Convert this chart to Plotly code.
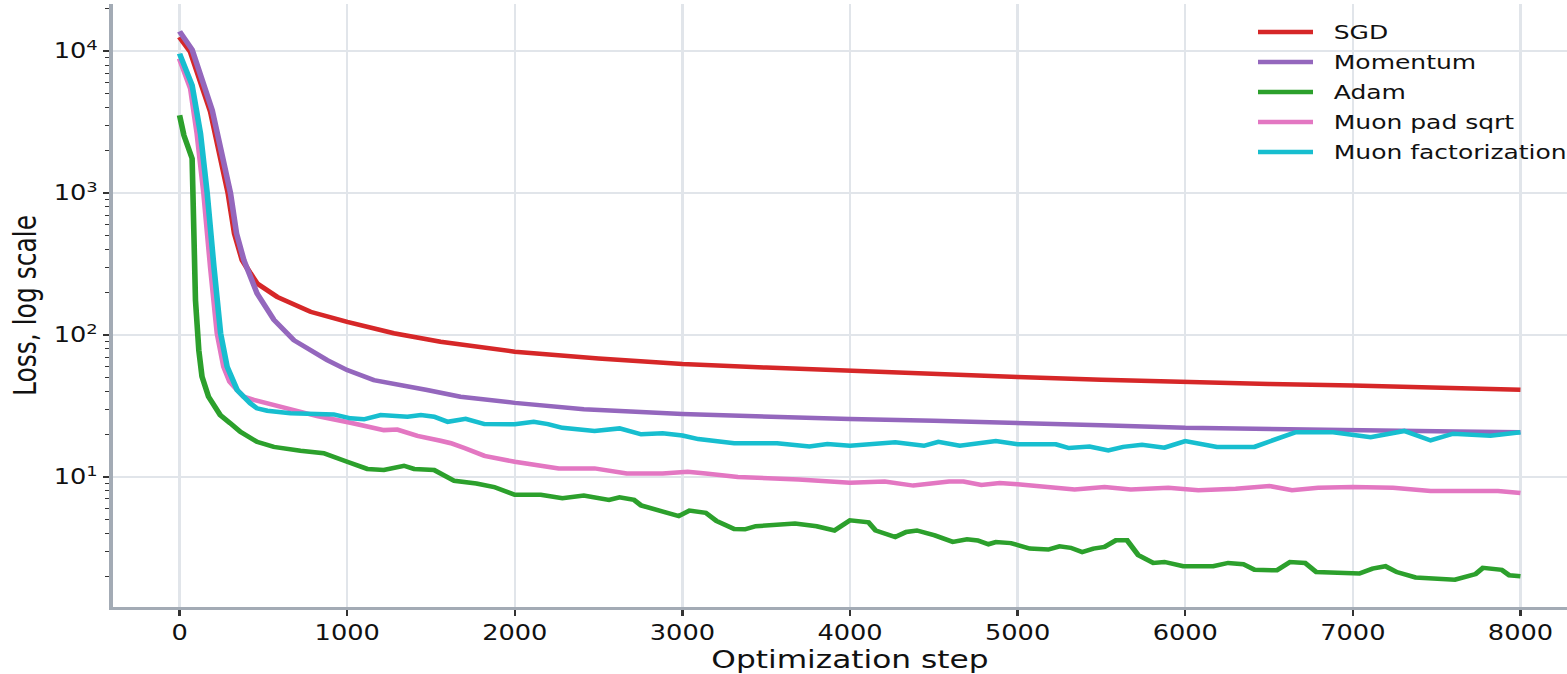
import plotly.graph_objects as go

# Loss curves per optimizer (step, loss)
sgd_steps = [0, 65, 185, 235, 290, 328, 374, 423, 463, 582, 781, 1000, 1278, 1557, 2000, 2500,
             3000, 3500, 4000, 4500, 5000, 5500, 6000, 6500, 7000, 7500, 8000]
sgd_loss = [12600, 9900, 3750, 2000, 1000, 520, 337, 272, 231, 186, 146, 124, 103, 89.7, 76.4, 68.5,
            62.5, 59.0, 55.8, 52.8, 50.6, 48.5, 46.7, 45.3, 44.2, 42.6, 41.2]

momentum_steps = [0, 75, 195, 249, 304, 340, 384, 463, 563, 682, 881, 1000, 1159, 1477, 1676, 2000,
                  2412, 3000, 3477, 4000, 4500, 4904, 5500, 6000, 6500, 7000, 7500, 8000]
momentum_loss = [13800, 10280, 3845, 2000, 1000, 520, 337, 196, 128, 92, 66.7, 56.7, 48.2, 41.0, 36.8, 33.3,
                 30.0, 27.8, 26.6, 25.6, 24.9, 24.3, 23.2, 22.2, 21.7, 21.3, 21.0, 20.7]

adam_steps = [0, 26, 75, 85, 95, 115, 134, 173, 243, 303, 363, 462, 562, 721, 860, 1000, 1120, 1219,
              1339, 1399, 1519, 1639, 1771, 1877, 2000, 2155, 2284, 2412, 2562, 2625, 2711, 2754,
              2882, 2978, 3042, 3139, 3203, 3309, 3373, 3438, 3672, 3801, 3907, 4000, 4110, 4153,
              4270, 4335, 4399, 4506, 4613, 4698, 4762, 4826, 4870, 4960, 5072, 5183, 5250, 5317,
              5385, 5452, 5519, 5586, 5653, 5720, 5809, 5876, 5988, 6167, 6256, 6346, 6413, 6547,
              6625, 6715, 6782, 7039, 7117, 7195, 7262, 7374, 7609, 7732, 7776, 7888, 7933, 8000]
adam_loss = [3540, 2560, 1755, 520, 176, 78, 51, 36.8, 27.3, 23.9, 20.8, 17.7, 16.3, 15.3, 14.7, 12.8,
             11.4, 11.2, 12.0, 11.4, 11.2, 9.4, 9.0, 8.5, 7.5, 7.5, 7.1, 7.4, 6.9, 7.2, 6.9, 6.3,
             5.7, 5.3, 5.8, 5.6, 4.9, 4.3, 4.28, 4.5, 4.7, 4.5, 4.2, 4.95, 4.8, 4.2,
             3.78, 4.1, 4.2, 3.88, 3.49, 3.64, 3.57, 3.36, 3.48, 3.42, 3.13, 3.08, 3.25, 3.17,
             2.96, 3.13, 3.22, 3.58, 3.58, 2.81, 2.48, 2.52, 2.35, 2.35, 2.48, 2.43, 2.22, 2.20,
             2.52, 2.48, 2.14, 2.09, 2.26, 2.35, 2.14, 1.96, 1.89, 2.07, 2.29, 2.22, 2.03, 2.0]

pad_sqrt_steps = [0, 66, 105, 145, 185, 225, 264, 300, 344, 382, 443, 582, 722, 821, 1020, 1219, 1299,
                  1419, 1557, 1619, 1707, 1819, 2000, 2219, 2262, 2476, 2668, 2882, 3032, 3139,
                  3331, 3694, 4000, 4207, 4378, 4591, 4677, 4784, 4893, 5000, 5340, 5519, 5675,
                  5899, 6078, 6301, 6502, 6637, 6793, 7000, 7240, 7464, 7687, 7866, 8000]
pad_sqrt_loss = [8870, 5460, 2630, 1000, 303, 103, 59.8, 47, 41, 36.8, 35.0, 31.6, 29.0, 26.9, 24.1, 21.4,
                 21.6, 19.5, 18.0, 17.3, 15.9, 14.1, 12.8, 11.8, 11.5, 11.5, 10.6, 10.6, 10.9, 10.6,
                 10.0, 9.6, 9.1, 9.3, 8.7, 9.3, 9.3, 8.8, 9.07, 8.88, 8.15, 8.5, 8.18,
                 8.41, 8.06, 8.27, 8.64, 8.06, 8.41, 8.5, 8.4, 7.96, 7.96, 7.96, 7.71]

factor_steps = [0, 75, 125, 165, 205, 245, 284, 344, 423, 462, 523, 662, 920, 1020, 1100, 1200,
                1360, 1440, 1519, 1600, 1707, 1819, 2000, 2113, 2198, 2284, 2476, 2625, 2754,
                2882, 3000, 3095, 3309, 3565, 3758, 3865, 4000, 4270, 4441, 4527, 4655, 4848,
                4870, 5000, 5228, 5306, 5429, 5541, 5630, 5742, 5876, 6000, 6189, 6413, 6547,
                6659, 6883, 7000, 7106, 7307, 7464, 7598, 7821, 8000]
factor_loss = [9630, 5770, 2630, 1000, 303, 103, 59.8, 41, 33, 30.5, 29.3, 28.1, 27.6, 25.9, 25.5, 27.3,
               26.6, 27.3, 26.6, 24.5, 25.7, 23.6, 23.5, 24.5, 23.6, 22.2, 21.1, 22.0, 20.0,
               20.3, 19.6, 18.5, 17.3, 17.3, 16.4, 17.1, 16.6, 17.6, 16.6, 17.7, 16.6, 17.7,
               17.9, 17.0, 17.0, 16.0, 16.4, 15.4, 16.3, 16.9, 16.1, 17.9, 16.3, 16.3, 18.6,
               20.7, 20.7, 20.0, 19.1, 21.1, 18.1, 20.2, 19.5, 20.7]

series_names = ["SGD", "Momentum", "Adam", "Muon pad sqrt", "Muon factorization"]
series_colors = ["#d62728", "#9467bd", "#2ca02c", "#e377c2", "#17becf"]
series_data = [
    (sgd_steps, sgd_loss),
    (momentum_steps, momentum_loss),
    (adam_steps, adam_loss),
    (pad_sqrt_steps, pad_sqrt_loss),
    (factor_steps, factor_loss),
]

x_tick_values = [0, 1000, 2000, 3000, 4000, 5000, 6000, 7000, 8000]
y_tick_values = [10, 100, 1000, 10000]
y_tick_labels = ["10<sup>1</sup>", "10<sup>2</sup>", "10<sup>3</sup>", "10<sup>4</sup>"]
y_minor_values = [m * 10 ** e for e in range(0, 5) for m in range(2, 10)]

FONT = "DejaVu Sans"
LINE_W = 4.5
STRETCH = 1.25            # horizontal scale applied to the rendered figure
FIG_W, FIG_H = 1270, 674
M_L, M_R, M_T, M_B = 90, 0, 4, 67

fig = go.Figure()
for (steps, loss), name, color in zip(series_data, series_names, series_colors):
    fig.add_trace(go.Scatter(
        x=steps, y=loss, mode="lines", name=name, showlegend=False,
        line=dict(color=color, width=LINE_W),
    ))

# Hand-drawn legend in the upper right corner
plot_w = FIG_W - M_L - M_R
plot_h = FIG_H - M_T - M_B
def px_to_paper_x(px):
    return (px / STRETCH - M_L) / plot_w
def py_to_paper_y(py):
    return 1 - (py - M_T) / plot_h

for i, (name, color) in enumerate(zip(series_names, series_colors)):
    yy = py_to_paper_y(32 + 30 * i)
    fig.add_shape(type="line", xref="paper", yref="paper",
                  x0=px_to_paper_x(1258), x1=px_to_paper_x(1313), y0=yy, y1=yy,
                  line=dict(color=color, width=LINE_W))
    fig.add_annotation(xref="paper", yref="paper", x=px_to_paper_x(1331), y=yy,
                       text=name, showarrow=False, xanchor="left", yanchor="middle",
                       font=dict(family=FONT, size=20, color="#111111"))

axis_line = "#a3abb5"
grid_col = "#e1e5ea"

fig.update_xaxes(
    range=[-400, 8400], tickvals=x_tick_values,
    showgrid=True, gridcolor=grid_col, gridwidth=1.5,
    showline=True, linecolor=axis_line, linewidth=2.5,
    ticks="outside", ticklen=6, tickwidth=1.5, tickcolor="#333333",
    tickfont=dict(family=FONT, size=20.5, color="#111111"),
    title=dict(text="Optimization step", font=dict(family=FONT, size=25, color="#111111"), standoff=6),
    zeroline=False,
)
fig.update_yaxes(
    type="log", range=[0.084, 4.333], tickvals=y_tick_values, ticktext=y_tick_labels,
    showgrid=True, gridcolor=grid_col, gridwidth=1.5,
    showline=True, linecolor=axis_line, linewidth=2.5,
    ticks="outside", ticklen=5, tickwidth=1.5, tickcolor="#333333",
    minor=dict(tickvals=y_minor_values, ticks="outside", ticklen=3, tickwidth=1.2,
               tickcolor="#333333", showgrid=False),
    tickfont=dict(family=FONT, size=20.5, color="#111111"),
    title=dict(text="Loss, log scale", font=dict(family=FONT, size=25, color="#111111"), standoff=7),
    zeroline=False,
)

fig.update_layout(
    width=FIG_W, height=FIG_H,
    margin=dict(l=M_L, r=M_R, t=M_T, b=M_B),
    plot_bgcolor="white", paper_bgcolor="white",
    showlegend=False,
)

post = """
var gd = document.getElementById('{plot_id}');
document.documentElement.style.margin = '0';
document.body.style.margin = '0';
document.body.style.overflow = 'hidden';
gd.style.transformOrigin = '0 0';
gd.style.transform = 'scaleX(%s)';
""" % STRETCH

fig.write_html("out.html", post_script=post)
